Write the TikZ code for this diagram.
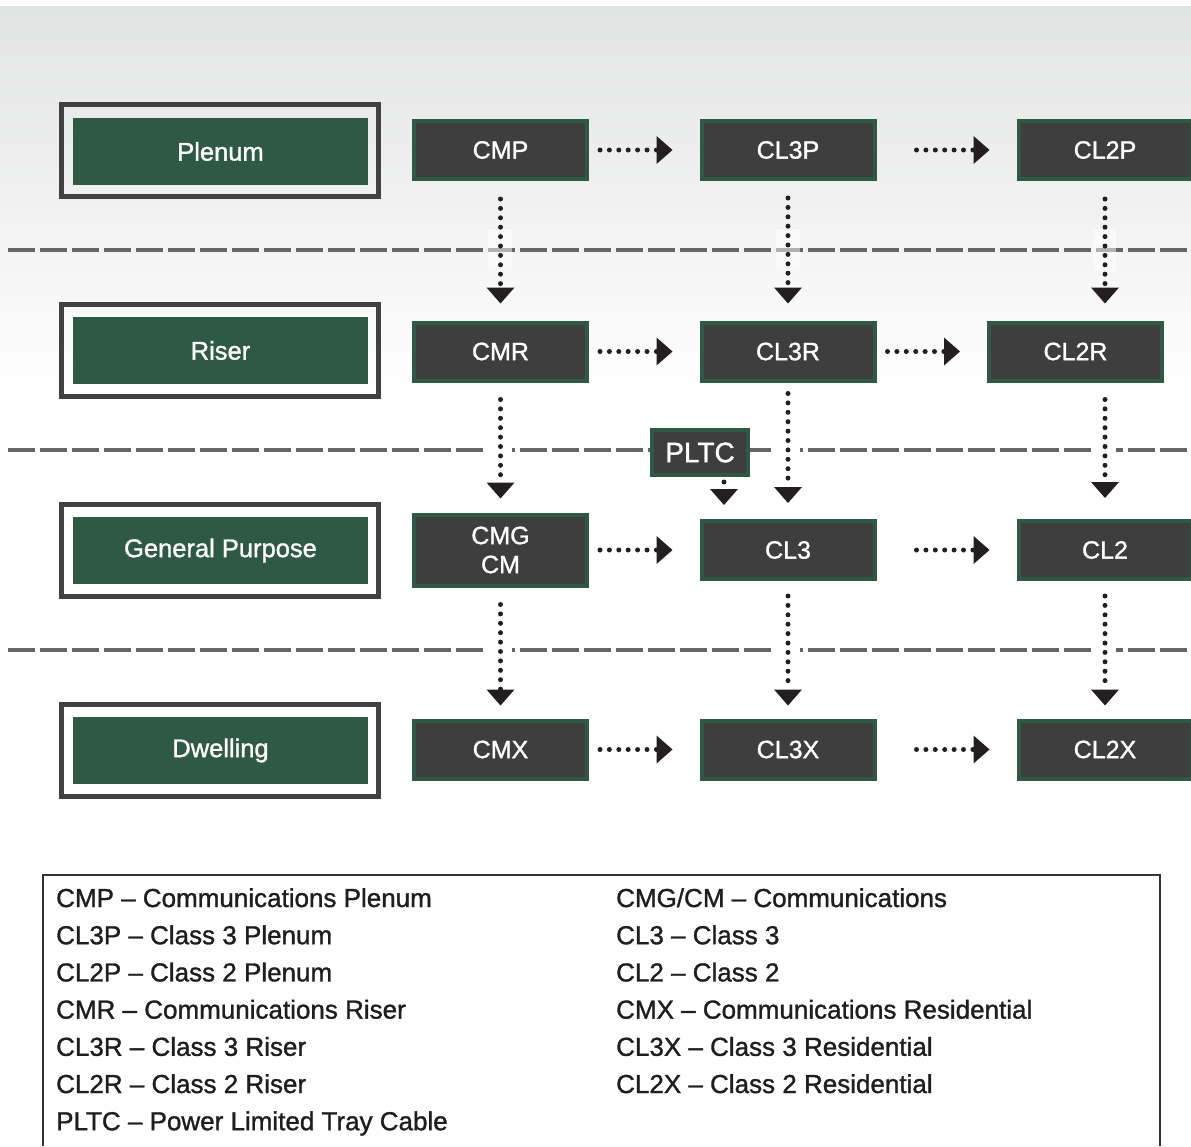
\documentclass[tikz,border=0pt]{standalone}
\usepackage{fontspec}
\setmainfont{Liberation Sans}[RawFeature={embolden=1.2}]
\usetikzlibrary{arrows.meta}

\definecolor{boxgreen}{HTML}{2E5A45}
\definecolor{boxdark}{HTML}{3E3E3E}
\definecolor{framegray}{HTML}{414141}
\definecolor{dashgray}{HTML}{666666}
\definecolor{arrowblack}{HTML}{231F20}
\definecolor{bgtop}{HTML}{E2E3E3}
\definecolor{legendtext}{HTML}{1E1E1E}

\tikzset{
  catframe/.style={draw=framegray, line width=5pt, minimum width=317pt, minimum height=92pt, inner sep=0pt},
  catbox/.style={fill=boxgreen, text=white, minimum width=295pt, minimum height=67pt, inner sep=0pt, font=\fontsize{25.5}{30}\selectfont},
  cable/.style={fill=boxdark, draw=boxgreen, line width=4pt, text=white, minimum width=173pt, minimum height=58pt, inner sep=0pt, align=center, font=\fontsize{25}{29}\selectfont},
  flow/.style={arrowblack, line width=5pt, line cap=round, dash pattern=on 0pt off 9.4pt, -{Triangle[width=28pt,length=16pt,line width=0pt]}},
  divider/.style={dashgray, line width=4.5pt, dash pattern=on 27pt off 5pt},
  gap/.style={fill=white, draw=none},
  legendentry/.style={anchor=base west, text=legendtext, inner sep=0pt, font=\fontsize{26}{30}\selectfont}
}

\begin{document}
\begin{tikzpicture}[x=1pt, y=-1pt]
  \useasboundingbox (0,0) rectangle (1191,1146);
  \fill[white] (0,0) rectangle (1191,1146);
  \shade[top color=bgtop, bottom color=white] (0,6) rectangle (1191,400);

  \draw[divider] (8,250) -- (1191,250);
  \draw[divider] (8,450) -- (1191,450);
  \draw[divider] (8,650) -- (1191,650);
  \fill[gap, opacity=0.5] (488,229) rectangle (512,271);
  \fill[gap, opacity=0.5] (776,229) rectangle (800,271);
  \fill[gap, opacity=0.5] (1093,229) rectangle (1116,271);
  \fill[gap] (488,429) rectangle (512,471);
  \fill[gap] (776,429) rectangle (800,471);
  \fill[gap] (1093,429) rectangle (1116,471);
  \fill[gap] (488,629) rectangle (512,671);
  \fill[gap] (776,629) rectangle (800,671);
  \fill[gap] (1093,629) rectangle (1116,671);

  \node[catframe] (plenumframe) at (220,150.5) {};
  \node[catbox] (plenum) at (220.5,151.5) {Plenum};
  \node[catframe] (riserframe) at (220,350) {};
  \node[catbox] (riser) at (220.5,350.5) {Riser};
  \node[catframe] (generalframe) at (220,550) {};
  \node[catbox] (general) at (220.5,550.5) {General Purpose};
  \node[catframe] (dwellingframe) at (220,750) {};
  \node[catbox] (dwelling) at (220.5,750.5) {Dwelling};

  \node[cable] (cmp) at (500.5,150) {CMP};
  \node[cable] (cl3p) at (788,150) {CL3P};
  \node[cable] (cl2p) at (1105,150) {CL2P};
  \node[cable] (cmr) at (500.5,351.5) {CMR};
  \node[cable] (cl3r) at (788,351.5) {CL3R};
  \node[cable] (cl2r) at (1075.5,351.5) {CL2R};
  \node[cable, minimum height=71pt] (cmg) at (500.5,550) {CMG\\CM};
  \node[cable] (cl3) at (788,550) {CL3};
  \node[cable] (cl2) at (1105,550) {CL2};
  \node[cable] (cmx) at (500.5,749.5) {CMX};
  \node[cable] (cl3x) at (788,749.5) {CL3X};
  \node[cable] (cl2x) at (1105,749.5) {CL2X};
  \node[cable, minimum width=96pt, minimum height=45pt, font=\fontsize{28}{32}\selectfont] (pltc) at (700,452.5) {PLTC};

  \draw[flow, shorten <=11pt, shorten >=27pt] (cmp) -- (cl3p);
  \draw[flow, shorten <=40pt, shorten >=27pt] (cl3p) -- (cl2p);
  \draw[flow, shorten <=11pt, shorten >=27pt] (cmr) -- (cl3r);
  \draw[flow, shorten <=11pt, shorten >=27pt] (cl3r) -- (cl2r);
  \draw[flow, shorten <=11pt, shorten >=27pt] (cmg) -- (cl3);
  \draw[flow, shorten <=40pt, shorten >=27pt] (cl3) -- (cl2);
  \draw[flow, shorten <=11pt, shorten >=27pt] (cmx) -- (cl3x);
  \draw[flow, shorten <=40pt, shorten >=27pt] (cl3x) -- (cl2x);

  \draw[flow, shorten <=18pt, shorten >=17pt] (cmp) -- (cmr);
  \draw[flow, shorten <=17pt, shorten >=14pt] (cmr) -- (cmg);
  \draw[flow, shorten <=17pt, shorten >=13pt] (cmg) -- (cmx);
  \draw[flow, shorten <=17pt, shorten >=17pt] (cl3p) -- (cl3r);
  \draw[flow, shorten <=11pt, shorten >=16pt] (cl3r) -- (cl3);
  \draw[flow, shorten <=15pt, shorten >=13pt] (cl3) -- (cl3x);
  \draw[flow, shorten <=18pt, shorten >=17pt] (cl2p.south) -- (cl2p.south |- cl2r.north);
  \draw[flow, shorten <=17pt, shorten >=21pt] (cl2.north |- cl2r.south) -- (cl2.north);
  \draw[flow, shorten <=15pt, shorten >=13pt] (cl2) -- (cl2x);
  \draw[flow, shorten <=5pt, shorten >=14pt] ([xshift=24pt]pltc.south) -- ([xshift=24pt]pltc.south |- cl3.north);

  \draw[framegray!80!black, line width=2pt] (43,1146) -- (43,875) -- (1160,875) -- (1160,1146);
  \node[legendentry] (lgcmp) at (56,907) {CMP – Communications Plenum};
  \node[legendentry] (lgcl3p) at (56,944.2) {CL3P – Class 3 Plenum};
  \node[legendentry] (lgcl2p) at (56,981.4) {CL2P – Class 2 Plenum};
  \node[legendentry] (lgcmr) at (56,1018.6) {CMR – Communications Riser};
  \node[legendentry] (lgcl3r) at (56,1055.8) {CL3R – Class 3 Riser};
  \node[legendentry] (lgcl2r) at (56,1093) {CL2R – Class 2 Riser};
  \node[legendentry] (lgpltc) at (56,1130.2) {PLTC – Power Limited Tray Cable};
  \node[legendentry] (lgcmg) at (616,907) {CMG/CM – Communications};
  \node[legendentry] (lgcl3) at (616,944.2) {CL3 – Class 3};
  \node[legendentry] (lgcl2) at (616,981.4) {CL2 – Class 2};
  \node[legendentry] (lgcmx) at (616,1018.6) {CMX – Communications Residential};
  \node[legendentry] (lgcl3x) at (616,1055.8) {CL3X – Class 3 Residential};
  \node[legendentry] (lgcl2x) at (616,1093) {CL2X – Class 2 Residential};
\end{tikzpicture}
\end{document}
